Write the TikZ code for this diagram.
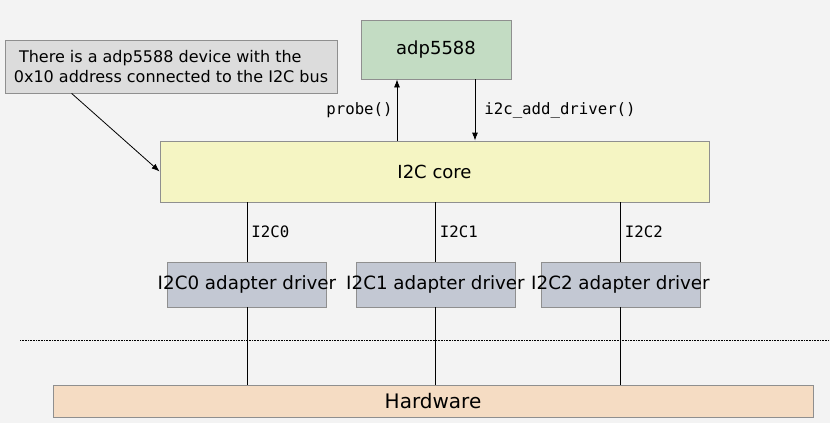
\documentclass[tikz,border=0pt]{standalone}
\usepackage{fontspec}
\setmainfont{DejaVu Sans}
\newfontfamily\monofont{DejaVu Sans Mono}
\usetikzlibrary{arrows.meta, positioning}

\definecolor{bgcol}{HTML}{F3F3F3}
\definecolor{edgecol}{HTML}{8F8F8F}
\definecolor{notecol}{HTML}{DCDCDC}
\definecolor{devcol}{HTML}{C3DCC3}
\definecolor{corecol}{HTML}{F5F5C3}
\definecolor{adaptcol}{HTML}{C3C8D3}
\definecolor{hwcol}{HTML}{F5DCC3}

\begin{document}
\begin{tikzpicture}[x=1pt,y=-1pt,>={Latex[length=8pt,width=6pt]},
        box/.style={draw=edgecol,line width=0.8pt,inner sep=0pt,font=\fontsize{18}{22}\selectfont},
        adapter/.style={box,fill=adaptcol,minimum width=159pt,minimum height=45pt},
        every label/.style={font=\fontsize{18.3}{22}\selectfont,inner sep=0pt},
        call/.style={font=\monofont\fontsize{15.7}{18}\selectfont,inner sep=0pt},
        wire/.style={line width=0.8pt}]

      \path[use as bounding box,fill=bgcol] (0,0) rectangle (830,423);

      \node[box,fill=notecol,minimum width=332pt,minimum height=53pt,align=left,
            font=\fontsize{16}{20}\selectfont] (note) at (171,66.5)
            {\hspace*{0.32em}There is a adp5588 device with the\\0x10 address connected to the I2C bus};
      \node[box,fill=devcol,minimum width=150pt,minimum height=59pt] (adp) at (436,49.5) {adp5588};
      \node[box,fill=corecol,minimum width=549pt,minimum height=61pt] (core) at (434.5,171.5) {I2C core};

      \node[adapter,label={center:I2C0 adapter driver}] (ad0) at (247,284.5) {};
      \node[adapter,label={center:I2C1 adapter driver}] (ad1) at (435.5,284.5) {};
      \node[adapter,label={center:I2C2 adapter driver}] (ad2) at (620.5,284.5) {};

      \node[box,fill=hwcol,minimum width=760pt,minimum height=32pt,font=\fontsize{20}{24}\selectfont] (hw) at (433,401) {Hardware};

      % callbacks between the driver and the core
      \draw[wire,<-] ([xshift=-39]adp.south) -- node[call,left=4pt] {probe()} ([xshift=-39]adp.south |- core.north);
      \draw[wire,->] ([xshift=39]adp.south) -- node[call,right=9pt] {i2c\_add\_driver()} ([xshift=39]adp.south |- core.north);
      \draw[wire,->] ([xshift=67]note.south west) -- (core.west);

      % buses
      \foreach \n in {0,1,2} {
        \draw[wire] (ad\n.north |- core.south) -- node[call,right=4pt] {I2C\n} (ad\n.north);
        \draw[wire] (ad\n.south) -- (ad\n.south |- hw.north);
      }

      \draw[line width=0.6pt,dash pattern=on 0.8pt off 0.8pt] (20,340) -- (830,340);
\end{tikzpicture}
\end{document}
